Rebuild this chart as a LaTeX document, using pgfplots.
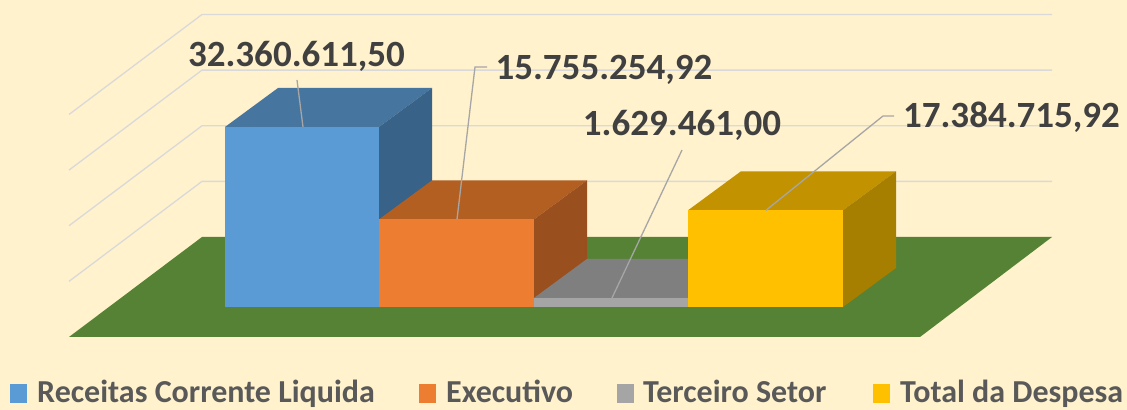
\documentclass[border=0pt]{standalone}
\usepackage{pgfplots}
\pgfplotsset{compat=1.18}
\usepackage{fontspec}
\setmainfont{Carlito}
\definecolor{bg}{HTML}{FFF2CC}
\definecolor{gridc}{HTML}{D9D9D9}
\definecolor{floorc}{HTML}{568235}
\definecolor{bluef}{HTML}{5B9BD5}
\definecolor{bluet}{HTML}{4675A0}
\definecolor{blues}{HTML}{386287}
\definecolor{orangef}{HTML}{ED7D31}
\definecolor{oranget}{HTML}{B45F22}
\definecolor{oranges}{HTML}{9A4F1E}
\definecolor{grayf}{HTML}{A5A5A5}
\definecolor{grayt}{HTML}{7F7F7F}
\definecolor{grays}{HTML}{6E6E6E}
\definecolor{yellowf}{HTML}{FFC000}
\definecolor{yellowt}{HTML}{C29200}
\definecolor{yellows}{HTML}{A67E00}
\definecolor{labtext}{HTML}{404040}
\definecolor{legtext}{HTML}{595959}
\definecolor{leader}{HTML}{A6A6A6}
\begin{document}
\begin{tikzpicture}
\begin{axis}[width=1127pt,height=410pt,scale only axis,
  xmin=0,xmax=1127,ymin=-18.517,ymax=55.191,
  hide axis,clip=false]
% background
\addplot[fill=bg,draw=none] coordinates {(0,-18.517)(1127,-18.517)(1127,55.191)(0,55.191)} -- cycle;
% gridlines (left wall + back wall), values 10,20,30,40 M
\addplot[gridc,line width=1.3pt] coordinates {(69,4.606)(202,22.584)(1052,22.584)};
\addplot[gridc,line width=1.3pt] coordinates {(69,14.606)(202,32.584)(1052,32.584)};
\addplot[gridc,line width=1.3pt] coordinates {(69,24.606)(202,42.584)(1052,42.584)};
\addplot[gridc,line width=1.3pt] coordinates {(69,34.606)(202,52.584)(1052,52.584)};
% floor
\addplot[fill=floorc,draw=none] coordinates {(69,-5.393)(920,-5.393)(1052,12.584)(202,12.584)} -- cycle;
% Receitas Corrente Liquida 32.360611
\addplot[fill=bluet,draw=none] coordinates {(225,32.361)(379,32.361)(432,39.372)(278,39.372)} -- cycle;
\addplot[fill=blues,draw=none] coordinates {(379,0)(432,7.011)(432,39.372)(379,32.361)} -- cycle;
\addplot[fill=bluef,draw=none] coordinates {(225,0)(379,0)(379,32.361)(225,32.361)} -- cycle;
% Executivo 15.755255
\addplot[fill=oranget,draw=none] coordinates {(379,15.755)(534,15.755)(587,22.766)(432,22.766)} -- cycle;
\addplot[fill=oranges,draw=none] coordinates {(534,0)(587,7.011)(587,22.766)(534,15.755)} -- cycle;
\addplot[fill=orangef,draw=none] coordinates {(379,0)(534,0)(534,15.755)(379,15.755)} -- cycle;
% Terceiro Setor 1.629461
\addplot[fill=grayt,draw=none] coordinates {(534,1.629)(688,1.629)(741,8.640)(587,8.640)} -- cycle;
\addplot[fill=grays,draw=none] coordinates {(688,0)(741,7.011)(741,8.640)(688,1.629)} -- cycle;
\addplot[fill=grayf,draw=none] coordinates {(534,0)(688,0)(688,1.629)(534,1.629)} -- cycle;
% Total da Despesa 17.384716
\addplot[fill=yellowt,draw=none] coordinates {(688,17.385)(843,17.385)(896,24.396)(741,24.396)} -- cycle;
\addplot[fill=yellows,draw=none] coordinates {(843,0)(896,7.011)(896,24.396)(843,17.385)} -- cycle;
\addplot[fill=yellowf,draw=none] coordinates {(688,0)(843,0)(843,17.385)(688,17.385)} -- cycle;
% leader lines
\addplot[leader,line width=1.3pt] coordinates {(297,40.81)(303,32.361)};
\addplot[leader,line width=1.3pt] coordinates {(487,43.15)(475,43.15)(457,15.755)};
\addplot[leader,line width=1.3pt] coordinates {(682,28.22)(612,1.629)};
\addplot[leader,line width=1.3pt] coordinates {(894,34.34)(883,34.34)(766,17.385)};
% data labels
\begin{scope}[every node/.style={anchor=base,inner sep=0pt,text=labtext,font=\fontsize{37}{37}\selectfont\bfseries}]
\node at (axis cs:296.5,43.15) {32.360.611,50};
\node at (axis cs:604,40.81) {15.755.254,92};
\node at (axis cs:682,30.74) {1.629.461,00};
\node at (axis cs:1011.5,32.18) {17.384.715,92};
\end{scope}
% legend
\fill[bluef] (axis cs:10,-13.84) rectangle (axis cs:27,-17.26);
\fill[orangef] (axis cs:419,-13.84) rectangle (axis cs:436,-17.26);
\fill[grayf] (axis cs:617,-13.84) rectangle (axis cs:634,-17.26);
\fill[yellowf] (axis cs:873,-13.84) rectangle (axis cs:890,-17.26);
\begin{scope}[every node/.style={anchor=base west,inner sep=0pt,text=legtext,font=\fontsize{32}{32}\selectfont\bfseries}]
\node at (axis cs:37,-17.26) {Receitas Corrente Liquida};
\node at (axis cs:446,-17.26) {Executivo};
\node at (axis cs:643,-17.26) {Terceiro Setor};
\node at (axis cs:900,-17.26) {Total da Despesa};
\end{scope}
\end{axis}
\end{tikzpicture}
\end{document}
